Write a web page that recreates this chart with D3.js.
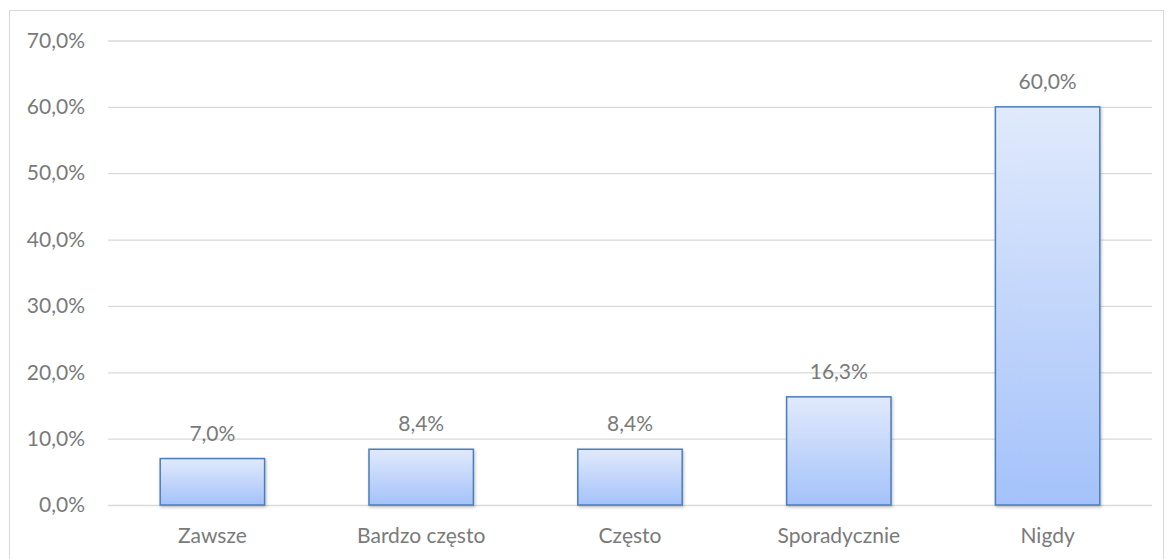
<!DOCTYPE html>
<html>
<head>
<meta charset="utf-8">
<script src="https://cdn.jsdelivr.net/npm/d3@7"></script>
<style>
  body { margin: 0; background: #fff; }
  text { font-family: Lato, "Open Sans", sans-serif; fill: #7a7a7a; }
</style>
</head>
<body>
<svg id="chart" width="1169" height="559"></svg>
<script>
// data
var categories = ["Zawsze", "Bardzo często", "Często", "Sporadycznie", "Nigdy"];
var values = [7.0, 8.4, 8.4, 16.3, 60.0];
var yTicks = [0, 10, 20, 30, 40, 50, 60, 70];

var svg = d3.select("#chart");
var margin = {left: 108, right: 17, top: 40.5, bottom: 54};
var W = 1169, H = 559;

// outer frame
svg.append("rect")
  .attr("x", 9.5).attr("y", 10.5)
  .attr("width", 1154).attr("height", 560)
  .attr("fill", "none").attr("stroke", "#d9d9d9").attr("stroke-width", 1);

var defs = svg.append("defs");
var grad = defs.append("linearGradient").attr("id", "barGrad")
  .attr("x1", 0).attr("y1", 0).attr("x2", 0).attr("y2", 1);
grad.append("stop").attr("offset", "0%").attr("stop-color", "#e1eafc");
grad.append("stop").attr("offset", "100%").attr("stop-color", "#a4c2fa");

var shadow = defs.append("filter").attr("id", "shadow")
  .attr("x", "-10%").attr("y", "-10%").attr("width", "130%").attr("height", "130%");
shadow.append("feDropShadow").attr("dx", 1).attr("dy", 1.5)
  .attr("stdDeviation", 1.5).attr("flood-color", "#000").attr("flood-opacity", 0.25);

var x = d3.scaleBand().domain(categories)
  .range([margin.left, W - margin.right]).paddingInner(0.5).paddingOuter(0.25);
var y = d3.scaleLinear().domain([0, 70]).range([H - margin.bottom, margin.top]);

var fmt = function(v) { return d3.format(".1f")(v).replace(".", ",") + "%"; };

// gridlines + y labels
var yAxis = svg.append("g").attr("transform", "translate(" + margin.left + ",0)")
  .call(d3.axisLeft(y).tickValues(yTicks).tickFormat(fmt)
    .tickSize(-(W - margin.left - margin.right)).tickPadding(23));
yAxis.select(".domain").remove();
yAxis.selectAll(".tick line").attr("stroke", "#d9d9d9").attr("stroke-width", 1.3);
yAxis.selectAll(".tick text").style("font-size", "21px").attr("fill", "#7a7a7a");

// x labels
var xAxis = svg.append("g").attr("transform", "translate(0," + (H - margin.bottom) + ")")
  .call(d3.axisBottom(x).tickSize(0).tickPadding(0));
xAxis.select(".domain").remove();
xAxis.selectAll(".tick text").attr("dy", null).attr("y", 38)
  .style("font-size", "21px").attr("fill", "#7a7a7a");

// bars
svg.append("g").selectAll("rect").data(values).join("rect")
  .attr("x", function(d, i) { return x(categories[i]); })
  .attr("y", function(d) { return y(d); })
  .attr("width", x.bandwidth())
  .attr("height", function(d) { return y(0) - y(d); })
  .attr("fill", "url(#barGrad)")
  .attr("stroke", "#4a7ebb").attr("stroke-width", 1.5)
  .attr("filter", "url(#shadow)");

// value labels
svg.append("g").selectAll("text").data(values).join("text")
  .attr("x", function(d, i) { return x(categories[i]) + x.bandwidth() / 2; })
  .attr("y", function(d) { return y(d) - 18; })
  .attr("text-anchor", "middle")
  .style("font-size", "21px")
  .text(fmt);
</script>
</body>
</html>
